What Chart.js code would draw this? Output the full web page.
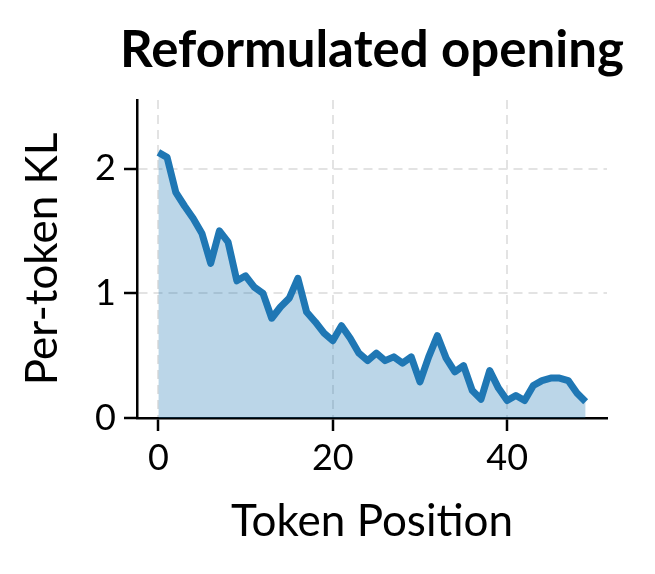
<!DOCTYPE html>
<html>
<head>
<meta charset="utf-8">
<script src="https://cdn.jsdelivr.net/npm/chart.js@4"></script>
<style>
  html, body { margin: 0; padding: 0; background: #fff; }
  #wrap { width: 655px; height: 574px; }
</style>
</head>
<body>
<div id="wrap"><canvas id="kl"></canvas></div>
<script>
// token positions 0..49 and per-token KL
const positions = [0,1,2,3,4,5,6,7,8,9,10,11,12,13,14,15,16,17,18,19,20,21,22,23,24,25,26,27,28,29,30,31,32,33,34,35,36,37,38,39,40,41,42,43,44,45,46,47,48,49];
const klValues = [2.13,2.09,1.81,1.70,1.60,1.48,1.24,1.50,1.41,1.10,1.14,1.05,1.00,0.80,0.89,0.96,1.12,0.85,0.77,0.68,0.62,0.74,0.64,0.52,0.46,0.52,0.46,0.49,0.44,0.49,0.29,0.49,0.66,0.48,0.37,0.42,0.22,0.15,0.38,0.24,0.14,0.18,0.14,0.26,0.30,0.32,0.32,0.30,0.20,0.13];
const xTicks = [0, 20, 40];
const yTicks = [0, 1, 2];
const titleText = 'Reformulated opening';

const FONT = 'Lato, "Noto Sans", sans-serif';
const ctx = document.getElementById('kl').getContext('2d');

const keepTicks = (list) => (scale) => {
  scale.ticks = list.map(v => ({ value: v }));
};

// title is wider than the plot area, so draw it centred over the plot without squashing
const plotTitle = {
  id: 'plotTitle',
  afterDraw(chart) {
    const { ctx, chartArea } = chart;
    ctx.save();
    ctx.font = 'bold 51px ' + FONT;
    ctx.fillStyle = '#000';
    ctx.textAlign = 'center';
    ctx.textBaseline = 'alphabetic';
    ctx.fillText(titleText, (chartArea.left + chartArea.right) / 2, 67);
    ctx.restore();
  }
};

new Chart(ctx, {
  type: 'line',
  data: {
    datasets: [{
      label: 'KL',
      data: positions.map((p, i) => ({ x: p, y: klValues[i] })),
      borderColor: '#1f77b4',
      backgroundColor: 'rgba(31,119,180,0.3)',
      borderWidth: 7,
      borderJoinStyle: 'round',
      pointRadius: 0,
      tension: 0,
      fill: 'origin'
    }]
  },
  options: {
    responsive: true,
    maintainAspectRatio: false,
    animation: false,
    devicePixelRatio: 1,
    layout: { padding: { left: 0, right: 48, top: 100, bottom: 0 } },
    plugins: {
      legend: { display: false },
      tooltip: { enabled: false },
      title: { display: false }
    },
    scales: {
      x: {
        type: 'linear',
        min: -2.45,
        max: 51.45,
        afterBuildTicks: keepTicks(xTicks),
        afterFit: (s) => { s.height = 156; },
        ticks: { color: '#000', font: { family: FONT, size: 36 }, padding: 6, maxRotation: 0 },
        grid: { color: '#e3e3e3', lineWidth: 2, tickColor: '#000', tickWidth: 2.5, tickLength: 13 },
        border: { color: '#000', width: 2.5, dash: [9, 6] },
        title: { display: true, text: 'Token Position', color: '#000', font: { family: FONT, size: 44 }, padding: { top: 0, bottom: 26 } }
      },
      y: {
        type: 'linear',
        min: 0,
        max: 2.55,
        afterBuildTicks: keepTicks(yTicks),
        afterFit: (s) => { s.width = 137; },
        ticks: { color: '#000', font: { family: FONT, size: 36 }, padding: 8 },
        grid: { color: '#e3e3e3', lineWidth: 2, tickColor: '#000', tickWidth: 2.5, tickLength: 13 },
        border: { color: '#000', width: 2.5, dash: [9, 6] },
        title: { display: true, text: 'Per-token KL', color: '#000', font: { family: FONT, size: 44 }, padding: { top: 16 } }
      }
    }
  },
  plugins: [plotTitle]
});
</script>
</body>
</html>
